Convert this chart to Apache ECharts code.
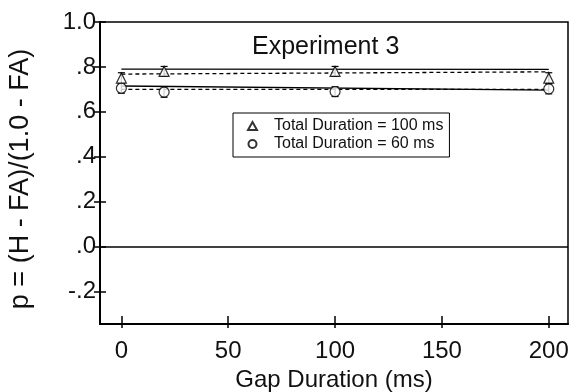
<!DOCTYPE html>
<html>
<head>
<meta charset="utf-8">
<script src="https://cdn.jsdelivr.net/npm/echarts@6/dist/echarts.min.js"></script>
<style>
  html, body { margin: 0; padding: 0; background: #fff; }
  #chart { width: 570px; height: 392px; }
</style>
</head>
<body>
<div id="chart"></div>
<script>
// gap durations (ms) and p values
var gaps = [0, 20, 100, 200];
var p100 = [0.75, 0.78, 0.78, 0.75];
var err100 = [0.024, 0.022, 0.022, 0.024];
var p60 = [0.705, 0.688, 0.69, 0.702];
var err60 = [0.022, 0.023, 0.022, 0.022];

// fitted lines (endpoints at gap 0 and 200)
var fitX = [0, 200];
var fit100Solid = [0.79, 0.789];
var fit100Dashed = [0.768, 0.778];
var fit60Solid = [0.715, 0.697];
var fit60Dashed = [0.70, 0.70];

var yTicks = [-0.2, 0, 0.2, 0.4, 0.6, 0.8, 1.0];
var xTicks = [0, 50, 100, 150, 200];

var font = 'Liberation Sans, Arial, Helvetica, sans-serif';

function pairs(xs, ys) {
  return xs.map(function (x, i) { return [x, ys[i]]; });
}
function errData(xs, ys, es) {
  return xs.map(function (x, i) { return [x, ys[i] - es[i], ys[i] + es[i]]; });
}
function yLabel(v) {
  if (Math.abs(v - 1) < 1e-9) return '1.0';
  var s = v.toFixed(1);
  return s.replace('0.', '.');
}

function renderErr(params, api) {
  var x = api.value(0);
  var lo = api.coord([x, api.value(1)]);
  var hi = api.coord([x, api.value(2)]);
  var cap = 3.5;
  var st = { stroke: '#000', lineWidth: 1.2 };
  return {
    type: 'group',
    children: [
      { type: 'line', shape: { x1: lo[0], y1: lo[1], x2: hi[0], y2: hi[1] }, style: st },
      { type: 'line', shape: { x1: lo[0] - cap, y1: lo[1], x2: lo[0] + cap, y2: lo[1] }, style: st },
      { type: 'line', shape: { x1: hi[0] - cap, y1: hi[1], x2: hi[0] + cap, y2: hi[1] }, style: st }
    ]
  };
}

var chart = echarts.init(document.getElementById('chart'), null, { renderer: 'canvas' });

var xRange = { min: -10, max: 209 };
var yRange = { min: -0.345, max: 1.0 };

var option = {
  animation: false,
  backgroundColor: '#fff',
  textStyle: { fontFamily: font, color: '#111' },
  title: {
    text: 'Experiment 3',
    left: 247,
    top: 30,
    textStyle: { fontFamily: font, fontSize: 25, fontWeight: 'normal', color: '#111' }
  },
  grid: {
    left: 100, right: 2, top: 22, bottom: 68,
    outerBoundsMode: 'none',
    show: true, borderColor: '#000', borderWidth: 1.5
  },
  legend: {
    left: 233, top: 113,
    orient: 'vertical',
    data: ['Total Duration = 100 ms', 'Total Duration = 60 ms'],
    borderColor: '#000', borderWidth: 1,
    padding: [4, 6, 4, 14],
    itemGap: 0,
    itemWidth: 9, itemHeight: 8,
    textStyle: { fontFamily: font, fontSize: 16, color: '#111', lineHeight: 18, padding: [0, 0, 0, 12] }
  },
  xAxis: [{
    type: 'value',
    min: xRange.min, max: xRange.max,
    name: 'Gap Duration (ms)',
    nameLocation: 'middle',
    nameGap: 35,
    nameTextStyle: { fontSize: 24, color: '#111', fontFamily: font },
    axisLine: { onZero: false, lineStyle: { color: '#000', width: 2 } },
    axisTick: { show: true, inside: true, length: 8, customValues: xTicks, lineStyle: { color: '#000', width: 1.5 } },
    axisLabel: { customValues: xTicks, fontSize: 24, color: '#111', margin: 15, fontFamily: font },
    splitLine: { show: false }
  }, {
    type: 'value',
    position: 'bottom',
    min: xRange.min, max: xRange.max,
    axisLine: { show: false, onZero: false },
    axisTick: { show: true, length: 4, customValues: xTicks, lineStyle: { color: '#000', width: 1.5 } },
    axisLabel: { show: false },
    splitLine: { show: false }
  }],
  yAxis: [{
    type: 'value',
    min: yRange.min, max: yRange.max,
    name: 'p = (H - FA)/(1.0 - FA)',
    nameLocation: 'middle',
    nameGap: 66,
    nameTextStyle: { fontSize: 27, color: '#111', fontFamily: font, padding: [0, 12, 0, 0] },
    axisLine: { onZero: false, lineStyle: { color: '#000', width: 2 } },
    axisTick: { show: true, length: 6, customValues: yTicks, lineStyle: { color: '#000', width: 1.5 } },
    axisLabel: { customValues: yTicks, formatter: yLabel, fontSize: 24, color: '#111', margin: 4, fontFamily: font },
    splitLine: { show: false }
  }, {
    type: 'value',
    position: 'left',
    min: yRange.min, max: yRange.max,
    axisLine: { show: false, onZero: false },
    axisTick: { show: true, inside: true, length: 6, customValues: yTicks, lineStyle: { color: '#000', width: 1.5 } },
    axisLabel: { show: false },
    splitLine: { show: false }
  }],
  series: [
    {
      name: 'zero', type: 'line', data: [], silent: true,
      markLine: {
        symbol: 'none', silent: true, label: { show: false },
        lineStyle: { color: '#000', width: 1.5, type: 'solid' },
        data: [{ yAxis: 0 }]
      }
    },
    {
      name: 'fit100s', type: 'line', data: pairs(fitX, fit100Solid), symbol: 'none',
      lineStyle: { color: '#000', width: 1.3 }
    },
    {
      name: 'fit100d', type: 'line', data: pairs(fitX, fit100Dashed), symbol: 'none',
      lineStyle: { color: '#000', width: 1.3, type: [4, 3] }
    },
    {
      name: 'fit60s', type: 'line', data: pairs(fitX, fit60Solid), symbol: 'none',
      lineStyle: { color: '#000', width: 1.3 }
    },
    {
      name: 'fit60d', type: 'line', data: pairs(fitX, fit60Dashed), symbol: 'none',
      lineStyle: { color: '#000', width: 1.3, type: [4, 3] }
    },
    {
      name: 'err100', type: 'custom', renderItem: renderErr, data: errData(gaps, p100, err100), z: 3
    },
    {
      name: 'err60', type: 'custom', renderItem: renderErr, data: errData(gaps, p60, err60), z: 3
    },
    {
      name: 'Total Duration = 100 ms', type: 'scatter', data: pairs(gaps, p100),
      symbol: 'triangle', symbolSize: 10, z: 4,
      itemStyle: { color: '#fff', borderColor: '#000', borderWidth: 1.2 }
    },
    {
      name: 'Total Duration = 60 ms', type: 'scatter', data: pairs(gaps, p60),
      symbol: 'circle', symbolSize: 10, z: 4,
      itemStyle: { color: '#fff', borderColor: '#000', borderWidth: 1.2 }
    }
  ]
};

chart.setOption(option);
</script>
</body>
</html>
